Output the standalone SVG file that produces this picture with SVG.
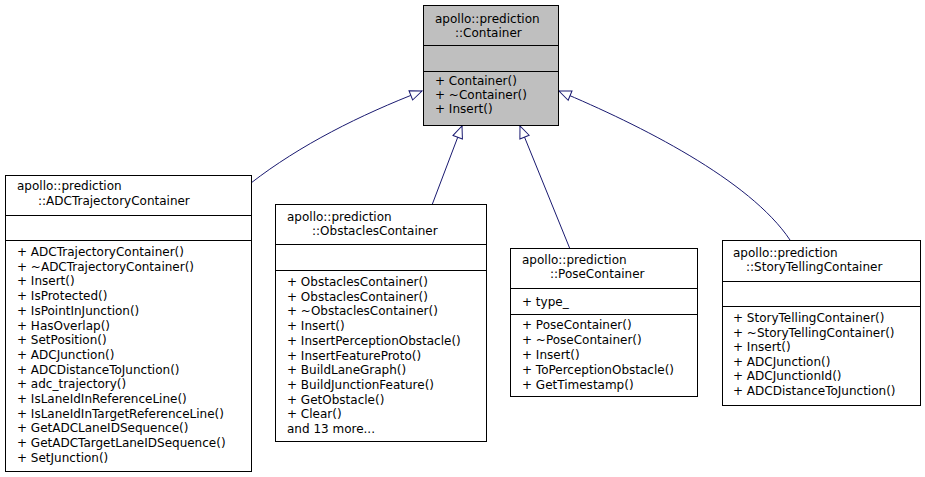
<svg xmlns="http://www.w3.org/2000/svg" width="925" height="477" viewBox="0 0 925 477">
<style>
text{font-family:"DejaVu Sans",sans-serif;font-size:12px;fill:#000}
.box{fill:#fff;stroke:#000;stroke-width:1}
.sep{stroke:#000;stroke-width:1}
.edge{fill:none;stroke:#191970;stroke-width:1}
</style>
<defs>
<marker id="inh" markerUnits="userSpaceOnUse" markerWidth="14" markerHeight="12" refX="13" refY="6" orient="auto">
<path d="M1,1 L13,6 L1,11 z" fill="#fff" stroke="#191970" stroke-width="1"/>
</marker>
</defs>
<rect width="925" height="477" fill="#fff"/>
<g id="connectors">
<path class="edge" d="M251,183 C300,145 360,115 422,91" marker-end="url(#inh)"/>
<path class="edge" d="M432,205 L462,126" marker-end="url(#inh)"/>
<path class="edge" d="M570,249 L520,126" marker-end="url(#inh)"/>
<path class="edge" d="M790,240 C750,180 640,125 559,91" marker-end="url(#inh)"/>
</g>
<g id="container">
<rect class="box" x="423.5" y="5.5" width="135" height="120" fill="#bfbfbf" style="fill:#bfbfbf"/>
<line class="sep" x1="423.5" y1="45.5" x2="558.5" y2="45.5"/>
<line class="sep" x1="423.5" y1="71.5" x2="558.5" y2="71.5"/>
<text x="435" y="23">apollo::prediction</text>
<text x="455" y="37">::Container</text>
<text x="435" y="85">+ Container()</text>
<text x="435" y="99">+ ~Container()</text>
<text x="435" y="113">+ Insert()</text>
</g>
<g id="adc">
<rect class="box" x="5.5" y="175.5" width="246" height="296"/>
<line class="sep" x1="5.5" y1="215.5" x2="251.5" y2="215.5"/>
<line class="sep" x1="5.5" y1="240.5" x2="251.5" y2="240.5"/>
<text x="17" y="190">apollo::prediction</text>
<text x="38" y="205">::ADCTrajectoryContainer</text>
<text x="17" y="256">+ ADCTrajectoryContainer()</text>
<text x="17" y="270.7">+ ~ADCTrajectoryContainer()</text>
<text x="17" y="285.4">+ Insert()</text>
<text x="17" y="300.1">+ IsProtected()</text>
<text x="17" y="314.8">+ IsPointInJunction()</text>
<text x="17" y="329.5">+ HasOverlap()</text>
<text x="17" y="344.2">+ SetPosition()</text>
<text x="17" y="358.9">+ ADCJunction()</text>
<text x="17" y="373.6">+ ADCDistanceToJunction()</text>
<text x="17" y="388.3">+ adc_trajectory()</text>
<text x="17" y="403">+ IsLaneIdInReferenceLine()</text>
<text x="17" y="417.7">+ IsLaneIdInTargetReferenceLine()</text>
<text x="17" y="432.4">+ GetADCLaneIDSequence()</text>
<text x="17" y="447.1">+ GetADCTargetLaneIDSequence()</text>
<text x="17" y="461.8">+ SetJunction()</text>
</g>
<g id="obstacles">
<rect class="box" x="275.5" y="204.5" width="211" height="237"/>
<line class="sep" x1="275.5" y1="244.5" x2="486.5" y2="244.5"/>
<line class="sep" x1="275.5" y1="270.5" x2="486.5" y2="270.5"/>
<text x="287" y="221">apollo::prediction</text>
<text x="312" y="235">::ObstaclesContainer</text>
<text x="287" y="286">+ ObstaclesContainer()</text>
<text x="287" y="300.7">+ ObstaclesContainer()</text>
<text x="287" y="315.4">+ ~ObstaclesContainer()</text>
<text x="287" y="330.1">+ Insert()</text>
<text x="287" y="344.8">+ InsertPerceptionObstacle()</text>
<text x="287" y="359.5">+ InsertFeatureProto()</text>
<text x="287" y="374.2">+ BuildLaneGraph()</text>
<text x="287" y="388.9">+ BuildJunctionFeature()</text>
<text x="287" y="403.6">+ GetObstacle()</text>
<text x="287" y="418.3">+ Clear()</text>
<text x="287" y="433">and 13 more...</text>
</g>
<g id="pose">
<rect class="box" x="510.5" y="248.5" width="187" height="148"/>
<line class="sep" x1="510.5" y1="288.5" x2="697.5" y2="288.5"/>
<line class="sep" x1="510.5" y1="314.5" x2="697.5" y2="314.5"/>
<text x="522" y="264">apollo::prediction</text>
<text x="550" y="278">::PoseContainer</text>
<text x="522" y="306">+ type_</text>
<text x="522" y="329">+ PoseContainer()</text>
<text x="522" y="344">+ ~PoseContainer()</text>
<text x="522" y="359">+ Insert()</text>
<text x="522" y="374">+ ToPerceptionObstacle()</text>
<text x="522" y="389">+ GetTimestamp()</text>
</g>
<g id="story">
<rect class="box" x="722.5" y="240.5" width="198" height="165"/>
<line class="sep" x1="722.5" y1="281.5" x2="920.5" y2="281.5"/>
<line class="sep" x1="722.5" y1="306.5" x2="920.5" y2="306.5"/>
<text x="733" y="257">apollo::prediction</text>
<text x="746" y="271">::StoryTellingContainer</text>
<text x="733" y="322">+ StoryTellingContainer()</text>
<text x="733" y="336.5">+ ~StoryTellingContainer()</text>
<text x="733" y="351">+ Insert()</text>
<text x="733" y="365.5">+ ADCJunction()</text>
<text x="733" y="380">+ ADCJunctionId()</text>
<text x="733" y="394.5">+ ADCDistanceToJunction()</text>
</g>
</svg>
